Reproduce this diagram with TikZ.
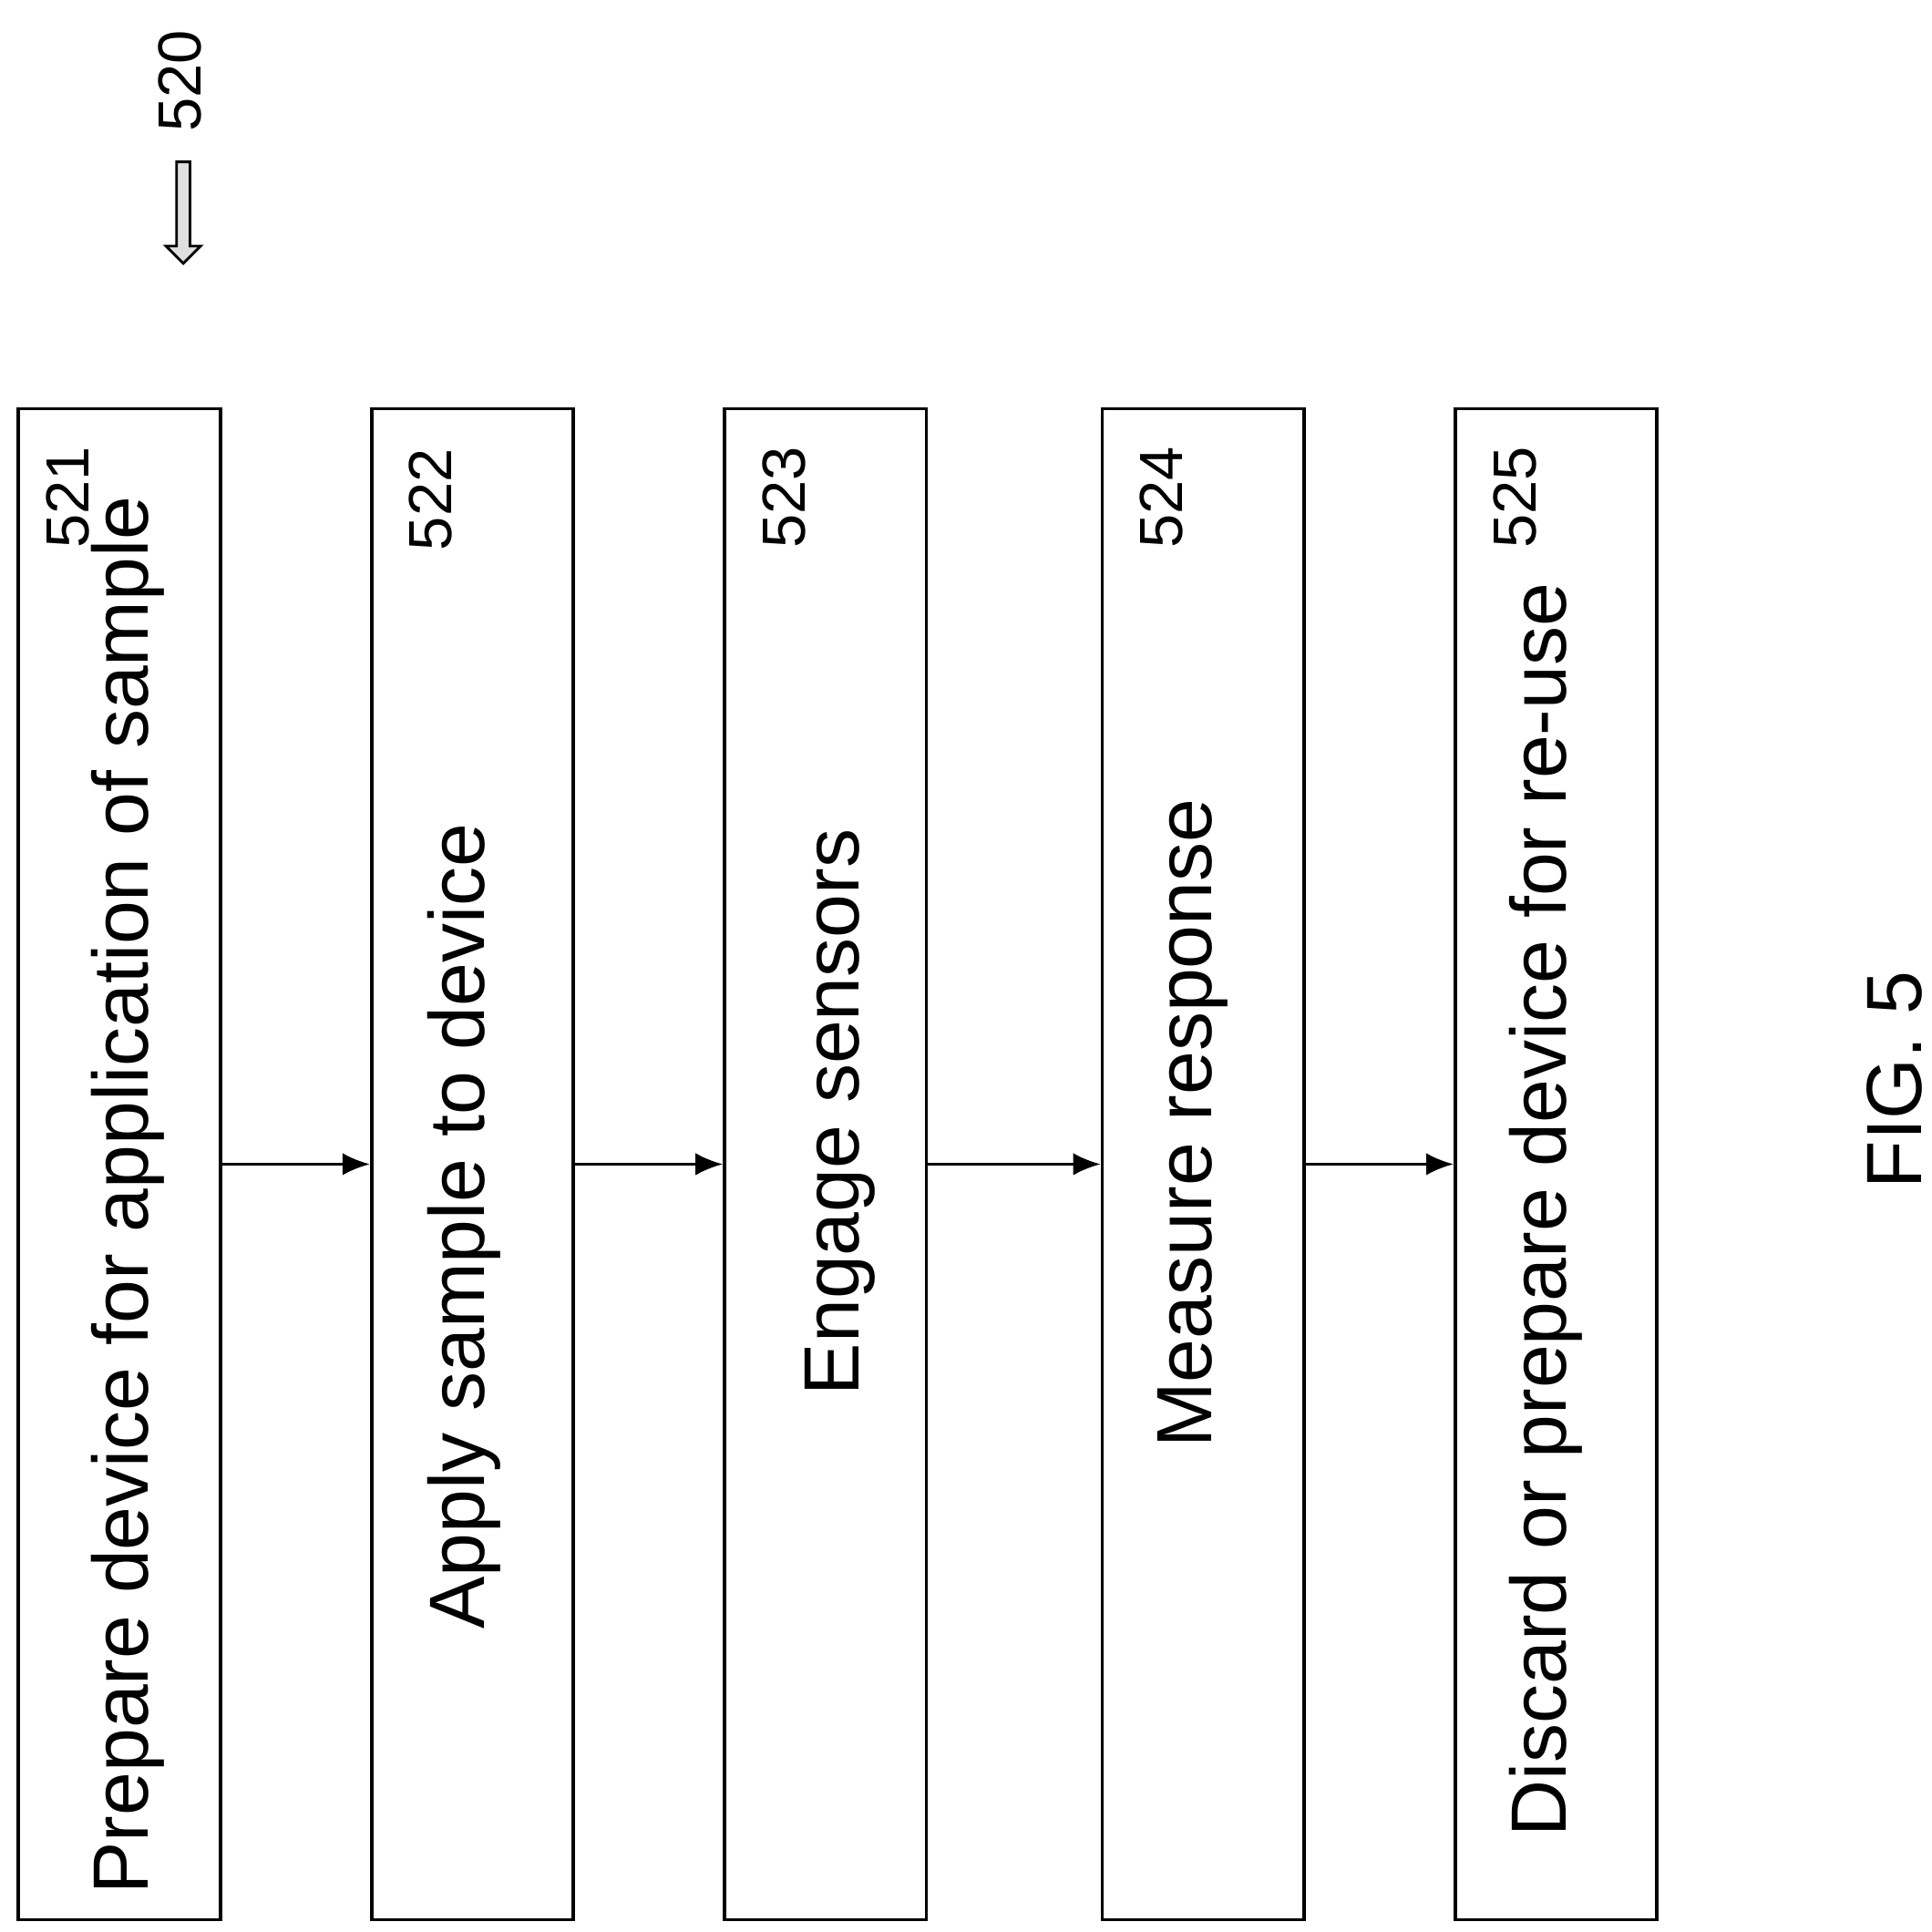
\documentclass[tikz,border=0pt]{standalone}
\usepackage{fontspec}
\setmainfont{Liberation Sans}
\usetikzlibrary{positioning,arrows.meta,shapes.arrows}
\tikzset{
  stepbox/.style={draw, line width=0.8pt, minimum width=16.3mm, minimum height=122mm, inner sep=0pt},
  steptext/.style={rotate=90, font=\fontsize{18}{20}\selectfont},
  ref/.style={rotate=90, font=\fontsize{14}{16}\selectfont, anchor=east},
  flow/.style={-{Latex[length=2.2mm,width=1.8mm]}, line width=0.6pt}
}
\begin{document}
\begin{tikzpicture}[x=0.1mm,y=-0.1mm]
    \useasboundingbox (0,0) rectangle (1560,1560);

    % steps
    \node[stepbox] (s1) at (96.5,940) {};
    \node[stepbox] (s2) at (381.5,940) {};
    \node[stepbox] (s3) at (666.5,940) {};
    \node[stepbox] (s4) at (971.5,940) {};
    \node[stepbox] (s5) at (1256.5,940) {};

    \node[steptext] at (103,965) {Prepare device for application of sample};
    \node[steptext] at (375,990) {Apply sample to device};
    \node[steptext] at (678,898) {Engage sensors};
    \node[steptext] at (963,907) {Measure response};
    \node[steptext] at (1248,977) {Discard or prepare device for re-use};

    % reference numbers
    \node[ref] at (55,348) {521};
    \node[ref] at (348,350) {522};
    \node[ref] at (633,348) {523};
    \node[ref] at (938,348) {524};
    \node[ref] at (1223,348) {525};

    \draw[flow] (s1) -- (s2);
    \draw[flow] (s2) -- (s3);
    \draw[flow] (s3) -- (s4);
    \draw[flow] (s4) -- (s5);

    % figure reference
    \node[ref] at (145,12) {520};
    \node[single arrow, draw, line width=0.6pt, fill=gray!25, rotate=-90,
          minimum height=8.2mm, minimum width=2.8mm, single arrow head extend=0.8mm,
          inner sep=0.4mm] (ptr) at (148,169) {};

    \node[rotate=90, font=\fontsize{18}{20}\selectfont] (fig) at (1530,872) {FIG. 5};
\end{tikzpicture}
\end{document}
